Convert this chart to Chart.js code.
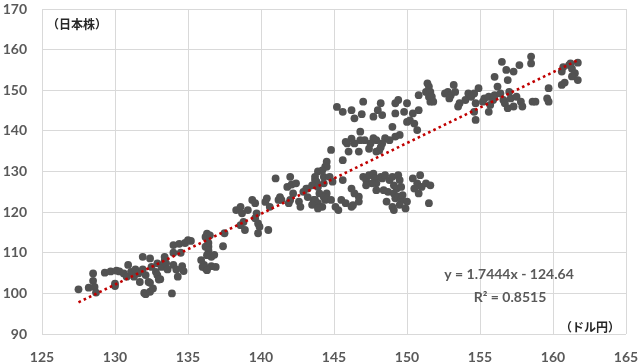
<!DOCTYPE html>
<html><head><meta charset="utf-8">
<script src="https://cdn.jsdelivr.net/npm/chart.js@4/dist/chart.umd.min.js"></script>
<style>html,body{margin:0;padding:0;background:#fff;}#wrap{width:640px;height:364px;}</style>
</head><body><div id="wrap"><canvas id="c" width="640" height="364"></canvas></div>
<script>
// USD/JPY (x) and Nikkei-related stock index (y)
const usdJpy = [
127.5,128.5,128.5,128.2,128.6,128.7,129.3,129.7,130.0,130.0,130.1,130.3,130.6,130.9,130.8,131.1,131.3,131.4,131.6,131.7,
131.9,131.9,132.1,132.0,132.1,132.4,132.4,132.5,132.6,132.8,132.9,132.9,133.1,133.2,133.4,133.4,133.5,133.6,133.9,134.0,
134.0,134.0,134.2,134.3,134.4,134.5,134.6,134.7,134.8,135.0,135.2,135.9,136.1,136.2,136.2,136.4,136.6,136.6,136.8,132.4,
132.3,133.0,136.3,136.2,136.0,136.3,
136.5,136.4,137.4,137.5,136.4,136.3,136.9,138.3,138.6,138.7,138.6,138.8,138.9,139.1,139.4,139.6,139.7,139.6,139.8,139.8,
139.9,140.3,140.4,140.5,140.6,141.0,141.2,141.3,141.4,141.8,141.9,142.0,142.1,142.0,142.2,142.4,142.6,142.7,142.9,143.2,
143.2,143.6,143.7,143.9,143.9,144.2,144.3,144.4,144.5,144.5,
145.2,145.6,146.2,146.4,146.9,147.0,147.7,148.0,148.2,148.3,149.2,149.2,149.4,149.8,150.0,150.0,150.2,150.4,150.5,150.7,
150.8,150.8,151.3,151.5,151.6,152.6,149.0,149.5,149.2,148.8,148.5,148.3,147.9,147.7,147.9,148.1,148.2,147.5,147.4,147.1,
146.8,146.8,146.4,146.7,146.2,145.9,146.0,145.6,144.8,144.5,144.4,144.2,143.7,143.8,143.1,143.5,143.9,144.3,144.7,144.9,
145.6,144.0,144.3,144.5,144.8,143.7,143.5,143.9,145.1,145.3,145.5,145.8,146.2,146.3,146.7,146.7,146.2,146.4,147.0,147.2,
147.4,147.7,147.8,147.9,147.6,147.2,148.2,148.3,148.5,148.8,149.0,149.1,149.3,149.4,149.5,149.6,148.7,149.1,149.2,149.4,
149.6,149.7,150.0,148.6,149.0,149.1,149.5,149.9,150.4,150.7,150.9,151.0,150.5,150.8,151.3,151.6,151.5,147.9,148.4,145.8,
151.4,151.5,151.6,151.7,151.8,152.8,153.0,153.2,153.3,152.9,153.6,153.5,154.0,154.2,154.4,154.6,154.7,154.9,154.6,155.2,
155.3,155.6,155.7,155.6,155.9,156.0,156.0,156.2,156.4,156.5,156.6,156.7,156.8,156.9,156.9,157.0,157.3,157.1,157.3,157.5,
157.7,157.8,157.9,158.5,158.5,158.6,154.7,
160.6,160.7,161.1,161.2,161.3,161.7,161.5,161.3,161.7,160.6,160.8,159.7,159.6,159.7,158.8
];
const nikkei = [
101.0,104.9,103.1,101.4,101.6,100.2,105.1,105.4,102.4,101.8,105.6,105.4,104.9,107.0,104.1,105.3,104.1,105.9,104.9,102.8,
109.0,105.9,104.5,100.1,99.8,100.4,102.6,106.5,101.2,105.3,107.4,104.5,103.5,106.5,108.0,109.0,107.4,105.9,100.0,111.9,
110.0,107.0,105.9,104.1,112.2,110.0,106.7,105.5,112.4,113.1,112.9,108.2,107.0,111.5,106.2,112.4,106.7,109.0,109.5,108.6,
102.8,103.4,114.7,113.9,106.5,105.7,
114.3,111.5,111.6,114.8,110.6,109.4,106.5,120.5,121.3,119.7,116.8,117.6,115.6,120.5,123.0,122.2,119.7,118.5,117.2,114.8,
116.4,122.5,123.4,115.6,121.3,128.3,123.0,123.7,123.0,126.2,122.2,128.7,126.8,123.0,124.6,127.1,122.6,121.3,125.0,123.7,
125.8,123.0,127.9,122.2,130.0,121.3,128.7,123.0,124.6,131.2,
145.9,144.7,145.1,143.1,144.1,147.2,143.5,145.1,146.8,143.9,144.3,146.8,147.6,144.7,146.8,142.2,142.6,144.3,141.8,140.2,
145.1,148.8,149.6,148.4,147.2,149.2,141.0,139.0,138.6,137.7,138.2,136.9,137.7,138.2,134.9,135.2,136.0,136.9,135.6,137.7,
139.8,137.7,136.9,134.9,138.1,136.9,134.9,132.8,135.3,132.4,131.2,130.3,128.7,127.5,125.8,126.6,126.2,127.1,128.7,127.5,
127.9,124.6,123.7,123.3,123.0,123.0,121.8,120.9,121.3,120.5,123.0,122.2,121.3,121.7,123.8,122.6,125.8,124.6,128.7,127.9,
129.1,129.5,128.3,127.1,127.1,126.6,128.7,128.3,129.1,127.9,128.7,126.6,125.8,129.1,127.9,126.2,125.0,124.6,123.4,123.8,
123.0,124.2,122.6,122.6,121.3,120.5,121.8,120.9,128.3,127.1,129.1,126.2,125.8,124.6,127.1,126.6,122.2,125.4,125.4,137.3,
151.7,150.9,149.6,148.4,147.2,149.6,148.8,151.3,149.6,148.0,146.8,146.0,147.6,149.2,148.4,149.2,146.8,150.5,144.7,147.2,
148.0,148.4,146.4,144.7,147.6,148.8,153.3,150.9,149.2,157.0,147.6,146.8,155.0,152.5,145.6,149.6,154.6,148.0,146.0,148.4,
156.2,147.2,146.0,158.3,156.6,147.2,142.7,
154.6,155.7,156.2,156.6,155.3,156.8,154.2,153.4,152.5,151.3,151.9,150.5,148.0,147.2,147.2
];
// Linear trendline endpoints (y = 1.7444x - 124.64)
const trendX = [127.5, 161.7];
const trendY = [97.8, 157.4];
const xTicks = [125,130,135,140,145,150,155,160,165];
const yTicks = [90,100,110,120,130,140,150,160,170];
const yLabel = '（日本株）';
const xLabel = '（ドル円）';
const eqText = 'y = 1.7444x - 124.64';
const r2Text = 'R² = 0.8515';

const points = usdJpy.map((x,i)=>({x:x,y:nikkei[i]}));
const trend = trendX.map((x,i)=>({x:x,y:trendY[i]}));

const textPlugin = {
  id:'texts',
  afterDraw(chart){
    const ctx = chart.ctx;
    ctx.save();
    ctx.fillStyle = '#262626';
    ctx.font = 'bold 12px "Noto Sans CJK JP"';
    ctx.textBaseline = 'middle';
    ctx.textAlign = 'left';
    ctx.fillText(yLabel, 47, 24);
    ctx.textAlign = 'right';
    ctx.fillText(xLabel, 620, 327);
    ctx.fillStyle = '#595959';
    ctx.font = 'bold 14px Lato';
    ctx.textAlign = 'center';
    ctx.fillText(eqText, 509, 274);
    ctx.fillText(r2Text, 510, 297);
    ctx.restore();
  }
};

new Chart(document.getElementById('c'), {
  type:'scatter',
  data:{datasets:[
    {data:trend, showLine:true, pointRadius:0, borderColor:'#c00000', borderWidth:2.6, borderDash:[2.6,3.2], order:0, fill:false},
    {data:points, pointRadius:3.9, pointHoverRadius:3.9, pointBackgroundColor:'#525252', pointBorderWidth:0, borderWidth:0, order:1}
  ]},
  options:{
    responsive:false, animation:false,
    layout:{padding:{top:9,right:14,left:0,bottom:0}},
    plugins:{legend:{display:false}, tooltip:{enabled:false}},
    scales:{
      x:{type:'linear', min:125, max:165,
        afterBuildTicks: s => { s.ticks = xTicks.map(v=>({value:v})); },
        afterFit: s => { s.height = 30; s.paddingLeft = 0; s.paddingRight = 0; },
        grid:{color:'#d9d9d9', drawTicks:false}, border:{display:false},
        ticks:{color:'#595959', padding:15, font:{family:'Lato', size:14, weight:'bold'}}},
      y:{type:'linear', min:90, max:170,
        afterBuildTicks: s => { s.ticks = yTicks.map(v=>({value:v})); },
        afterFit: s => { s.width = 42; s.paddingTop = 0; s.paddingBottom = 0; },
        grid:{color:'#d9d9d9', drawTicks:false}, border:{display:false},
        ticks:{color:'#595959', padding:15, font:{family:'Lato', size:14, weight:'bold'}}}
    }
  },
  plugins:[textPlugin]
});
</script></body></html>
